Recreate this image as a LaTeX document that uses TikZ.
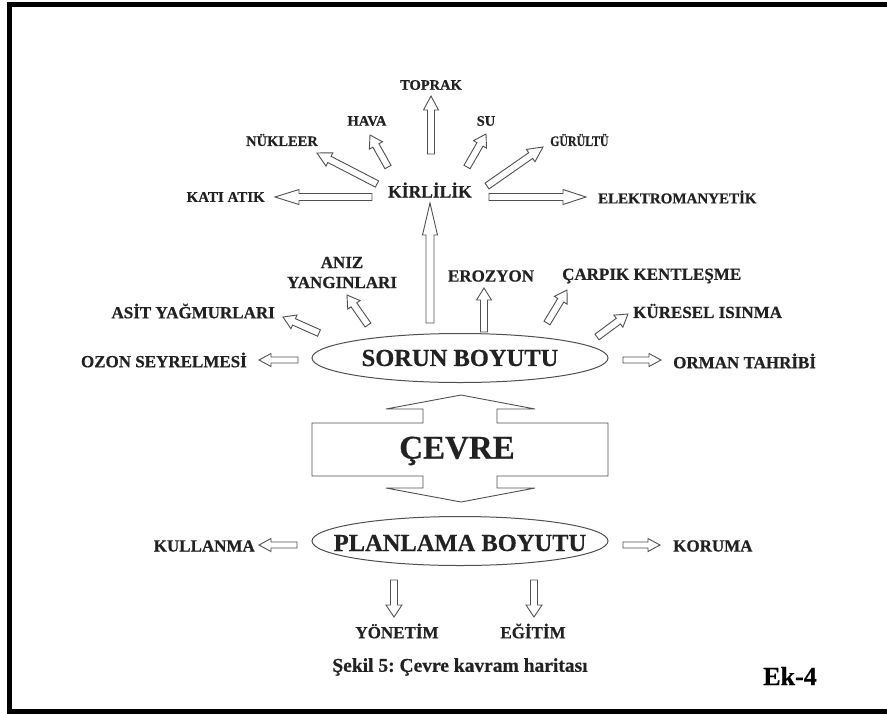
\documentclass[tikz,border=0pt]{standalone}
\usepackage{fontspec}
\usepackage{graphicx}
\setmainfont{Liberation Serif}[BoldFeatures={FakeBold=0.5}]
\usetikzlibrary{calc,shapes.geometric}
\definecolor{ink}{HTML}{222222}
\definecolor{lin}{HTML}{505050}
\frenchspacing
\tikzset{
  slbl/.style={font=\bfseries\fontsize{14.5}{16}\selectfont, text=ink, inner sep=0pt},
  mlbl/.style={font=\bfseries\fontsize{17}{19}\selectfont, text=ink, inner sep=0pt},
  blbl/.style={font=\bfseries\fontsize{24.5}{27}\selectfont, text=ink, inner sep=0pt},
  arr/.style={draw=lin, line width=0.9pt, fill=white, line join=miter},
  oval/.style={ellipse, draw=lin, line width=1pt, minimum width=296pt, minimum height=49pt, inner sep=0pt},
}
% hollow block arrow: tail, tip, head length, shaft half width, head half width
\newcommand{\barrow}[5]{%
  \coordinate (bH) at ($(#2)!#3!(#1)$);
  \draw[arr] ($(#1)!#4!90:(#2)$) -- ($(bH)!#4!-90:(#1)$) -- ($(bH)!#5!-90:(#1)$) -- (#2)
    -- ($(bH)!#5!90:(#1)$) -- ($(bH)!#4!90:(#1)$) -- ($(#1)!#4!-90:(#2)$) -- cycle;}
\begin{document}
\begin{tikzpicture}[x=1pt,y=-1pt]
\useasboundingbox (0,0) rectangle (887,713);
\fill[white] (0,0) rectangle (887,713);
% frame
\draw[line width=5pt] (900,4.5) -- (9.5,4.5) -- (9.5,711) -- (900,711);

% ---- KIRLILIK group
\node[mlbl,font=\bfseries\fontsize{17.5}{19}\selectfont] (kir) at (430,190) {KİRLİLİK};
\node[slbl] (toprak) at (431,85) {TOPRAK};
\node[slbl] (hava) at (367,121) {HAVA};
\node[slbl] (nuk) at (282,140) {NÜKLEER};
\node[slbl] (su) at (486,121) {SU};
\node[slbl,anchor=west] (gur) at (550,140) {\scalebox{0.82}[1]{GÜRÜLTÜ}};
\node[slbl,anchor=east,font=\bfseries\fontsize{15}{16}\selectfont] (kati) at (265,197) {KATI ATIK};
\node[slbl,anchor=west,font=\bfseries\fontsize{15}{16}\selectfont] (elek) at (598,197) {ELEKTROMANYETİK};

\coordinate (toprakT) at (431,154); \coordinate (toprakP) at (431,96);
\coordinate (havaT) at (388,167);   \coordinate (havaP) at (370,135);
\coordinate (nukT) at (377,184);    \coordinate (nukP) at (317,153);
\coordinate (suT) at (467,167);     \coordinate (suP) at (486,134);
\coordinate (gurT) at (487,186);    \coordinate (gurP) at (543,147);
\coordinate (katiT) at (372,197);   \coordinate (katiP) at (275,197);
\coordinate (elekT) at (489,197);   \coordinate (elekP) at (586,197);
\barrow{toprakT}{toprakP}{14pt}{3.5pt}{7.5pt}
\barrow{havaT}{havaP}{12pt}{3.5pt}{7.5pt}
\barrow{nukT}{nukP}{14pt}{3.5pt}{7.5pt}
\barrow{suT}{suP}{12pt}{3.5pt}{7.5pt}
\barrow{gurT}{gurP}{15pt}{3.5pt}{7.5pt}
\barrow{katiT}{katiP}{24pt}{3.5pt}{7.5pt}
\barrow{elekT}{elekP}{23pt}{3.5pt}{7.5pt}

% ---- SORUN BOYUTU group
\node[oval] (sorun) at (460,358) {};
\node[blbl] (sorunT) at (sorun) {SORUN BOYUTU};
\coordinate (mainT) at (430,323); \coordinate (mainP) at (430,203);
\barrow{mainT}{mainP}{32pt}{4pt}{7.5pt}

\node[mlbl,align=center] (aniz) at (342,272.5) {ANIZ\\[1pt]YANGINLARI};
\node[mlbl,anchor=east] (asit) at (275,311) {ASİT YAĞMURLARI};
\node[mlbl] (eroz) at (491,276) {EROZYON};
\node[mlbl,anchor=west] (carpik) at (562,276) {ÇARPIK KENTLEŞME};
\node[mlbl,anchor=west] (kures) at (633,311) {KÜRESEL ISINMA};
\node[mlbl,anchor=east] (ozon) at (247,360) {OZON SEYRELMESİ};
\node[mlbl,anchor=west] (orman) at (673,361) {ORMAN TAHRİBİ};

\coordinate (anizT) at (368,325);   \coordinate (anizP) at (347,295);
\coordinate (asitT) at (319,333);   \coordinate (asitP) at (283,317);
\coordinate (erozT) at (484,332);   \coordinate (erozP) at (484,288);
\coordinate (carpikT) at (547,323); \coordinate (carpikP) at (567,290);
\coordinate (kuresT) at (597,337);  \coordinate (kuresP) at (628,314);
\coordinate (ozonT) at (298,360);   \coordinate (ozonP) at (259,360);
\coordinate (ormanT) at (623,360);  \coordinate (ormanP) at (661,360);
\barrow{anizT}{anizP}{12pt}{3.5pt}{7.5pt}
\barrow{asitT}{asitP}{12pt}{3.5pt}{7.5pt}
\barrow{erozT}{erozP}{12pt}{3.5pt}{7.5pt}
\barrow{carpikT}{carpikP}{12pt}{3.5pt}{7.5pt}
\barrow{kuresT}{kuresP}{12pt}{3.5pt}{7.5pt}
\barrow{ozonT}{ozonP}{12pt}{3pt}{6.5pt}
\barrow{ormanT}{ormanP}{12pt}{3pt}{6.5pt}

% ---- CEVRE double arrow
\draw[arr] (461,395) -- (535,409) -- (497,409) -- (497,423) -- (608,423) -- (608,476)
  -- (497,476) -- (497,488) -- (535,488) -- (461,502) -- (386,488) -- (423,488)
  -- (423,476) -- (312,476) -- (312,423) -- (423,423) -- (423,409) -- (386,409) -- cycle;
\node[font=\bfseries\fontsize{33}{36}\selectfont, text=ink, inner sep=0pt] (cevre) at (457,451) {ÇEVRE};

% ---- PLANLAMA BOYUTU group
\node[oval] (plan) at (460,541) {};
\node[blbl] (planT) at (460,543) {PLANLAMA BOYUTU};
\node[mlbl,anchor=east] (kull) at (255,546) {KULLANMA};
\node[mlbl,anchor=west] (koru) at (673,546) {KORUMA};
\node[mlbl] (yon) at (397,631) {YÖNETİM};
\node[mlbl] (egit) at (533,631) {EĞİTİM};
\coordinate (kullT) at (297,545); \coordinate (kullP) at (259,545);
\coordinate (koruT) at (623,545); \coordinate (koruP) at (660,545);
\coordinate (yonT) at (394,580);  \coordinate (yonP) at (394,617);
\coordinate (egitT) at (534,580); \coordinate (egitP) at (534,617);
\barrow{kullT}{kullP}{12pt}{3pt}{6.5pt}
\barrow{koruT}{koruP}{12pt}{3pt}{6.5pt}
\barrow{yonT}{yonP}{12pt}{3.5pt}{8pt}
\barrow{egitT}{egitP}{12pt}{3.5pt}{8pt}

% ---- caption
\node[font=\bfseries\fontsize{19.5}{22}\selectfont, text=ink, inner sep=0pt] (cap) at (460,667) {Şekil 5: Çevre kavram haritası};
\node[font=\bfseries\fontsize{26}{28}\selectfont, text=black, inner sep=0pt] (ek) at (790,676) {Ek-4};
\end{tikzpicture}
\end{document}
